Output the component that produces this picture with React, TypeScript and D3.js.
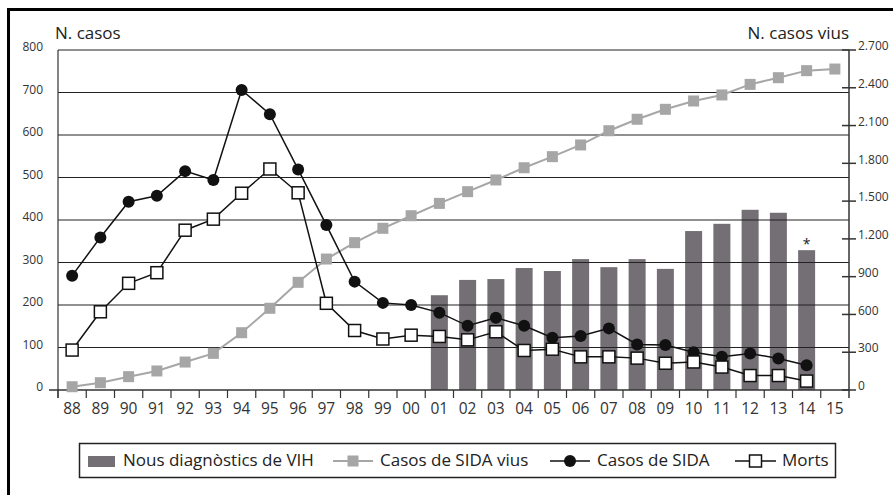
import React from "react";
import * as d3 from "d3";

const years = ["88","89","90","91","92","93","94","95","96","97","98","99","00","01","02","03","04","05","06","07","08","09","10","11","12","13","14","15"];
const sidaCases = [269,359,443,457,515,494,706,649,519,388,255,205,200,182,151,170,151,123,127,145,107,106,89,78,86,74,58];
const deaths = [94,184,251,276,376,402,463,520,464,204,140,120,129,126,118,137,93,96,78,78,75,63,66,54,34,34,21];
const livingCases = [26,58,106,151,222,291,455,649,855,1040,1170,1284,1384,1482,1575,1668,1765,1853,1946,2059,2150,2229,2295,2343,2427,2480,2536,2549];
const hivYears = ["01","02","03","04","05","06","07","08","09","10","11","12","13","14"];
const hivDiagnoses = [223,259,261,287,280,308,289,308,285,374,391,424,417,329];
const leftTicks = [0,100,200,300,400,500,600,700,800];
const rightTicks = [0,300,600,900,1200,1500,1800,2100,2400,2700];

const FONT = "'Open Sans', 'Noto Sans', sans-serif";
const fmt = (v: number) => d3.format(",")(v).replace(/,/g, ".");

export default function App() {
  const W = 893, H = 495;
  const x = d3.scaleBand<string>().domain(years).range([58, 849]).padding(0);
  const bw = x.bandwidth();
  const cx = (y: string) => (x(y) as number) + bw / 2;
  const yL = d3.scaleLinear().domain([0, 800]).range([390, 50]);
  const yR = d3.scaleLinear().domain([0, 2700]).range([390, 50]);
  const lineL = d3.line<number>().x((_, i) => cx(years[i])).y((d) => yL(d));
  const lineR = d3.line<number>().x((_, i) => cx(years[i])).y((d) => yR(d));
  const barW = 17;

  return (
    <svg width={W} height={H} style={{ position: "absolute", left: 0, top: 0, fontFamily: FONT }}>
      <rect x={0} y={0} width={W} height={H} fill="#fff" />
      {/* frame */}
      <line x1={8} x2={W} y1={9.5} y2={9.5} stroke="#000" strokeWidth={3} />
      <line x1={8.5} x2={8.5} y1={8} y2={H} stroke="#000" strokeWidth={3} />

      {/* titles */}
      <text x={55} y={39} fontSize={17} fill="#222">N. casos</text>
      <text x={849} y={39} fontSize={17} fill="#222" textAnchor="end">N. casos vius</text>

      {/* bars */}
      {hivYears.map((yr, i) => (
        <rect key={yr} x={cx(yr) - barW / 2} y={yL(hivDiagnoses[i])} width={barW} height={390 - yL(hivDiagnoses[i])} fill="#746f74" />
      ))}
      <text x={cx("14")} y={yL(hivDiagnoses[13]) - 1} fontSize={14} textAnchor="middle" fill="#222">*</text>

      {/* gridlines */}
      {leftTicks.filter((t) => t > 0).map((t) => (
        <line key={t} x1={58} x2={849} y1={yL(t)} y2={yL(t)} stroke="#222" strokeWidth={1.2} />
      ))}
      {/* left labels */}
      {leftTicks.map((t) => (
        <text key={t} x={43} y={yL(t) - 2} fontSize={12} fill="#333" textAnchor="end" dominantBaseline="middle">{t}</text>
      ))}
      {/* axes */}
      <line x1={58} x2={58} y1={50} y2={398} stroke="#333" strokeWidth={1.2} />
      <line x1={849} x2={849} y1={50} y2={398} stroke="#333" strokeWidth={1.5} />
      <line x1={49} x2={849} y1={390} y2={390} stroke="#333" strokeWidth={1.5} />
      {years.map((yr) => (
        <line key={yr} x1={x(yr) as number} x2={x(yr) as number} y1={390} y2={398} stroke="#333" strokeWidth={1.2} />
      ))}
      {years.map((yr) => (
        <text key={yr} x={cx(yr)} y={413.5} fontSize={15.5} fill="#333" textAnchor="middle">{yr}</text>
      ))}
      {/* right ticks */}
      {rightTicks.map((t) => (
        <g key={t}>
          <line x1={842} x2={856} y1={yR(t)} y2={yR(t)} stroke="#333" strokeWidth={1.5} />
          <text x={858} y={yR(t) - 3} fontSize={12} fill="#333" dominantBaseline="middle">{fmt(t)}</text>
        </g>
      ))}

      {/* living cases */}
      <path d={lineR(livingCases) as string} fill="none" stroke="#a6a6a6" strokeWidth={2} />
      {livingCases.map((v, i) => (
        <rect key={i} x={cx(years[i]) - 5.5} y={yR(v) - 5.5} width={11} height={11} fill="#a6a6a6" />
      ))}

      {/* AIDS cases */}
      <path d={lineL(sidaCases) as string} fill="none" stroke="#111" strokeWidth={1.5} />
      {sidaCases.map((v, i) => (
        <circle key={i} cx={cx(years[i])} cy={yL(v)} r={6} fill="#111" />
      ))}

      {/* deaths */}
      <path d={lineL(deaths) as string} fill="none" stroke="#111" strokeWidth={1.5} />
      {deaths.map((v, i) => (
        <rect key={i} x={cx(years[i]) - 6} y={yL(v) - 6} width={12} height={12} fill="#fff" stroke="#111" strokeWidth={1.5} />
      ))}

      {/* legend */}
      <rect x={79.5} y={443.5} width={756} height={34} fill="#fff" stroke="#222" strokeWidth={1.5} />
      <rect x={88} y={456} width={27} height={11} fill="#746f74" />
      <text x={123} y={461} fontSize={17} fill="#222" dominantBaseline="middle">Nous diagnòstics de VIH</text>
      <line x1={333} x2={373} y1={461} y2={461} stroke="#a6a6a6" strokeWidth={2} />
      <rect x={347.5} y={455.5} width={11} height={11} fill="#a6a6a6" />
      <text x={380} y={461} fontSize={17} fill="#222" dominantBaseline="middle">Casos de SIDA vius</text>
      <line x1={550} x2={590} y1={461} y2={461} stroke="#111" strokeWidth={1.5} />
      <circle cx={570} cy={461} r={6} fill="#111" />
      <text x={597} y={461} fontSize={17} fill="#222" dominantBaseline="middle">Casos de SIDA</text>
      <line x1={735} x2={776} y1={461} y2={461} stroke="#111" strokeWidth={1.5} />
      <rect x={749.5} y={455} width={12} height={12} fill="#fff" stroke="#111" strokeWidth={1.5} />
      <text x={782} y={461} fontSize={17} fill="#222" dominantBaseline="middle">Morts</text>
    </svg>
  );
}
